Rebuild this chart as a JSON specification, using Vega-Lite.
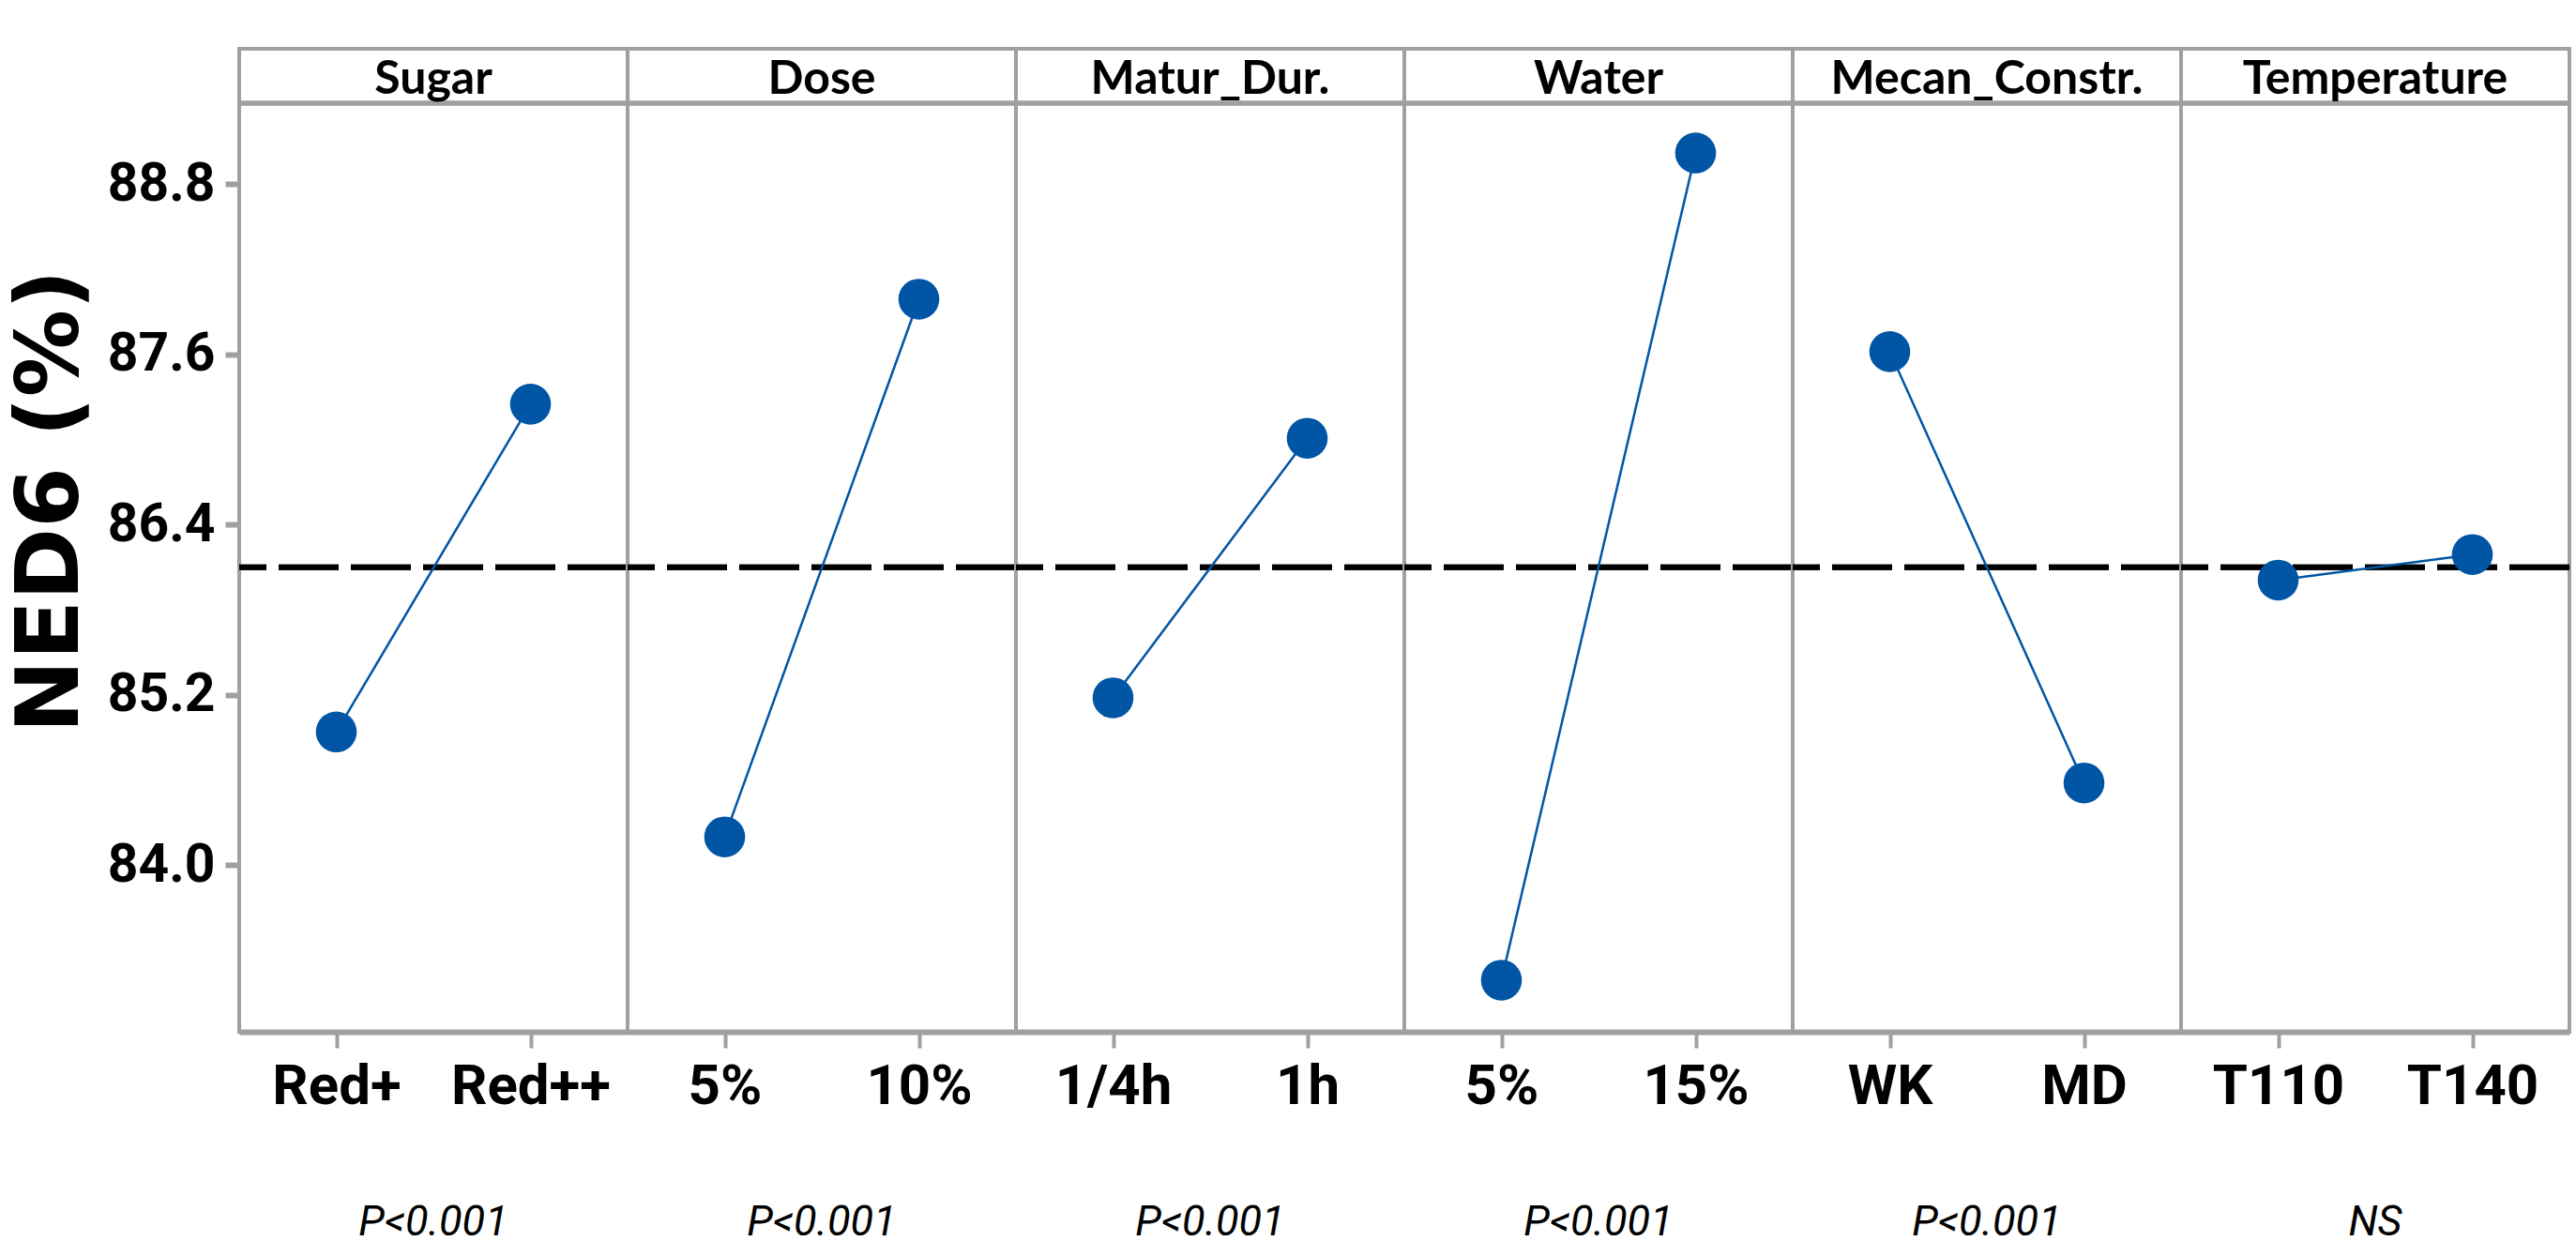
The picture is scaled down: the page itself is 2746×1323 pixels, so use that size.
{
  "$schema": "https://vega.github.io/schema/vega-lite/v6.json",
  "background": "white",
  "padding": {"top": 50, "left": 8, "right": 0, "bottom": 0},
  "bounds": "flush",
  "data": {
    "values": [
      {"factor": "Sugar", "level": "Red+", "ned6": 84.94, "p": "P<0.001"},
      {"factor": "Sugar", "level": "Red++", "ned6": 87.25, "p": "P<0.001"},
      {"factor": "Dose", "level": "5%", "ned6": 84.20, "p": "P<0.001"},
      {"factor": "Dose", "level": "10%", "ned6": 87.99, "p": "P<0.001"},
      {"factor": "Matur_Dur.", "level": "1/4h", "ned6": 85.18, "p": "P<0.001"},
      {"factor": "Matur_Dur.", "level": "1h", "ned6": 87.01, "p": "P<0.001"},
      {"factor": "Water", "level": "5%", "ned6": 83.19, "p": "P<0.001"},
      {"factor": "Water", "level": "15%", "ned6": 89.02, "p": "P<0.001"},
      {"factor": "Mecan_Constr.", "level": "WK", "ned6": 87.62, "p": "P<0.001"},
      {"factor": "Mecan_Constr.", "level": "MD", "ned6": 84.58, "p": "P<0.001"},
      {"factor": "Temperature", "level": "T110", "ned6": 86.01, "p": "NS"},
      {"factor": "Temperature", "level": "T140", "ned6": 86.19, "p": "NS"}
    ]
  },
  "spacing": 0,
  "facet": {
    "column": {
      "field": "factor",
      "type": "nominal",
      "sort": ["Sugar", "Dose", "Matur_Dur.", "Water", "Mecan_Constr.", "Temperature"],
      "header": null
    }
  },
  "spec": {
    "width": 414,
    "height": 1048,
    "layer": [
      {
        "layer": [
          {
            "mark": {"type": "rule", "color": "#a0a0a0", "strokeWidth": 5},
            "encoding": {"y": {"datum": 89.372, "type": "quantitative"}}
          },
          {
            "mark": {"type": "rule", "color": "black", "strokeWidth": 6, "strokeDash": [64, 13]},
            "encoding": {"y": {"datum": 86.1, "type": "quantitative"}}
          },
          {
            "mark": {"type": "line", "color": "#0055A5", "strokeWidth": 2.5},
            "encoding": {
              "x": {"field": "level", "type": "nominal", "sort": null},
              "y": {"field": "ned6", "type": "quantitative"}
            }
          },
          {
            "mark": {"type": "point", "filled": true, "opacity": 1, "color": "#0055A5", "size": 1900},
            "encoding": {
              "x": {
                "field": "level",
                "type": "nominal",
                "sort": null,
                "scale": {"type": "point", "padding": 0.5},
                "axis": {
                  "title": null,
                  "labelAngle": 0,
                  "labelAlign": "center",
                  "labelBaseline": "top",
                  "labelLimit": 0,
                  "labelOverlap": false,
                  "labelFlush": false,
                  "domainColor": "#a0a0a0",
                  "domainWidth": 6,
                  "tickColor": "#a0a0a0",
                  "tickWidth": 4,
                  "tickSize": 17,
                  "labelFont": "Roboto",
                  "labelFontWeight": "bold",
                  "labelFontSize": 60,
                  "labelColor": "black",
                  "labelPadding": 12
                }
              },
              "y": {
                "field": "ned6",
                "type": "quantitative",
                "scale": {"domain": [82.826, 89.755], "nice": false, "zero": false},
                "axis": {
                  "title": "NED6 (%)",
                  "values": [84.0, 85.2, 86.4, 87.6, 88.8],
                  "format": ".1f",
                  "grid": false,
                  "domain": false,
                  "tickColor": "#a0a0a0",
                  "tickWidth": 6,
                  "tickSize": 15,
                  "labelFont": "Roboto",
                  "labelFontWeight": "bold",
                  "labelFontSize": 57,
                  "labelColor": "black",
                  "labelPadding": 11,
                  "labelLimit": 0,
                  "titleFont": "DejaVu Sans",
                  "titleFontWeight": "bold",
                  "titleFontSize": 93,
                  "titleColor": "black",
                  "titlePadding": 12,
                  "titleY": 482
                }
              }
            }
          }
        ]
      },
      {
        "transform": [{"aggregate": [{"op": "count", "as": "n"}], "groupby": ["factor", "p"]}],
        "layer": [
          {
            "mark": {"type": "text", "font": "Lato", "fontWeight": "bold", "fontSize": 50, "baseline": "alphabetic", "align": "center", "color": "black"},
            "encoding": {
              "x": {"field": "p", "type": "nominal", "scale": {"type": "point", "padding": 0.5}, "axis": null},
              "y": {"datum": 89.438, "type": "quantitative"},
              "text": {"field": "factor", "type": "nominal"}
            }
          },
          {
            "mark": {"type": "text", "font": "Roboto", "fontStyle": "italic", "fontSize": 45, "baseline": "alphabetic", "align": "center", "color": "black", "clip": false},
            "encoding": {
              "x": {"field": "p", "type": "nominal", "axis": null},
              "y": {"datum": 81.39, "type": "quantitative"},
              "text": {"field": "p", "type": "nominal"}
            }
          }
        ]
      }
    ],
    "resolve": {"scale": {"x": "independent"}}
  },
  "resolve": {"scale": {"x": "independent"}},
  "config": {
    "view": {"stroke": "#a0a0a0", "strokeWidth": 4},
    "axis": {"grid": false}
  }
}
